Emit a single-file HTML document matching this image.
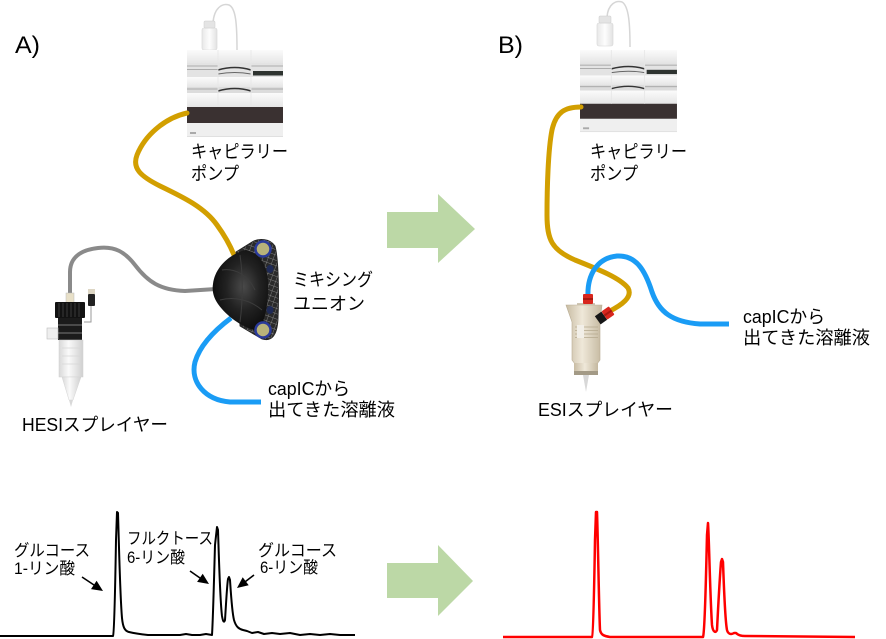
<!DOCTYPE html>
<html><head><meta charset="utf-8"><style>
html,body{margin:0;padding:0;background:#fff;}
svg{display:block;}
text{font-family:"Liberation Sans","Noto Sans CJK JP",sans-serif;fill:#000;}
</style></head><body>
<svg width="886" height="639" viewBox="0 0 886 639" xmlns="http://www.w3.org/2000/svg">
<defs>
  <linearGradient id="lightband" x1="0" y1="0" x2="0" y2="1">
    <stop offset="0" stop-color="#fbfbfb"/><stop offset="1" stop-color="#e6e6e6"/>
  </linearGradient>
  <linearGradient id="bottle" x1="0" y1="0" x2="1" y2="0">
    <stop offset="0" stop-color="#e8e8e8"/><stop offset="0.5" stop-color="#fdfdfd"/><stop offset="1" stop-color="#e2e2e2"/>
  </linearGradient>
  <linearGradient id="beige" x1="0" y1="0" x2="1" y2="0">
    <stop offset="0" stop-color="#c8bca3"/><stop offset="0.45" stop-color="#efe8d9"/><stop offset="1" stop-color="#c4b89f"/>
  </linearGradient>
  <linearGradient id="clear" x1="0" y1="0" x2="1" y2="0">
    <stop offset="0" stop-color="#d8d8d8"/><stop offset="0.4" stop-color="#fafafa"/><stop offset="1" stop-color="#d0d0d0"/>
  </linearGradient>
  <radialGradient id="blackbody" cx="0.55" cy="0.45" r="0.6">
    <stop offset="0" stop-color="#4a4a4a"/><stop offset="0.5" stop-color="#222"/><stop offset="1" stop-color="#0a0a0a"/>
  </radialGradient>
  <pattern id="mesh" width="5" height="5" patternUnits="userSpaceOnUse" patternTransform="rotate(20)">
    <rect width="5" height="5" fill="#2a2a2a"/>
    <path d="M0,0 H5 M0,0 V5" stroke="#9a9a9a" stroke-width="0.7"/>
  </pattern>
  <g id="pump">
    <rect x="0" y="0" width="96" height="87" fill="#f1f1f1"/>
    <rect x="0" y="0" width="96" height="13" fill="url(#lightband)"/>
    <rect x="0" y="13" width="96" height="14" fill="#e3e3e3"/>
    <path d="M0,16 H31 M0,19.5 H31 M64,16 H96" stroke="#9a9a9a" stroke-width="0.8"/>
    <path d="M31,20 Q48,15 64,20" stroke="#333" stroke-width="1.6" fill="none"/>
    <path d="M31,24 Q48,21 64,24" stroke="#666" stroke-width="1" fill="none"/>
    <rect x="66" y="21" width="30" height="4.5" fill="#2e3330"/>
    <rect x="0" y="27" width="96" height="10" fill="url(#lightband)"/>
    <rect x="0" y="37" width="96" height="6" fill="#dcdcdc"/>
    <path d="M0,39 H31 M64,39 H96" stroke="#999" stroke-width="0.8"/>
    <path d="M31,41 Q48,36 64,41" stroke="#333" stroke-width="1.5" fill="none"/>
    <rect x="0" y="43" width="96" height="14" fill="url(#lightband)"/>
    <rect x="0" y="57" width="96" height="16" fill="#3a3131"/>
    <rect x="0" y="73" width="96" height="14" fill="#efefef"/>
    <rect x="3" y="82" width="6" height="2" fill="#aaa"/>
    <rect x="0" y="86" width="96" height="1" fill="#e0e0e0"/>
    <path d="M31,0 V57 M64,0 V57" stroke="#e6e6e6" stroke-width="0.8"/>
  </g>
</defs>

<rect width="886" height="639" fill="#fff"/>

<text x="15" y="53" font-size="24" textLength="25" lengthAdjust="spacingAndGlyphs">A)</text>
<text x="498" y="53" font-size="24" textLength="25" lengthAdjust="spacingAndGlyphs">B)</text>

<!-- ===== Panel A ===== -->
<path d="M213,23 C214,8 222,3 229,5 C236,8 237,25 237,50" stroke="#d6d6d6" stroke-width="1.5" fill="none"/>
<rect x="202" y="28" width="15" height="22" rx="2" fill="url(#bottle)" stroke="#d6d6d6" stroke-width="0.6"/>
<rect x="204" y="21" width="11" height="7" rx="1" fill="#e4e4e4" stroke="#cccccc" stroke-width="0.5"/>
<use href="#pump" transform="translate(187,50)"/>

<text x="191" y="158" font-size="18" textLength="97" lengthAdjust="spacingAndGlyphs">キャピラリー</text>
<text x="191" y="180" font-size="18" textLength="48" lengthAdjust="spacingAndGlyphs">ポンプ</text>

<path d="M187,113 C165,118 145,135 137,155 C132,168 140,176 160,186 C185,198 205,208 217,225 C225,236 230,245 234,255" stroke="#d29f00" stroke-width="5" fill="none" stroke-linecap="round"/>
<path d="M70,298 L70,272 C70,258 80,250 98,248 C115,246 125,252 135,265 C148,282 160,290 185,291 L216,289" stroke="#8a8a8a" stroke-width="4" fill="none"/>
<path d="M231,318 C215,330 200,345 195,362 C190,382 205,400 230,402 L261,402" stroke="#1a9cf5" stroke-width="5" fill="none"/>

<!-- mixing union -->
<path d="M236,252 L252,242 C258,238 270,238 275,246 C279,260 279,300 278,320 C277,335 272,342 262,339 L240,326 Z" fill="url(#mesh)" stroke="#222" stroke-width="0.8"/>
<path d="M213,284 C215,268 228,255 245,250 C258,252 266,262 268,280 C269,300 266,318 259,331 C245,329 228,318 218,304 C213,297 212,290 213,284 Z" fill="url(#blackbody)"/>
<path d="M222,270 C235,268 248,275 255,290 M220,300 C235,296 250,300 262,310 M240,255 C243,275 243,300 240,322" stroke="#3c3c3c" stroke-width="1" fill="none"/>
<circle cx="263" cy="249" r="7.5" fill="#b8b27a" stroke="#2a3a9a" stroke-width="2.5"/>
<circle cx="263" cy="330" r="7.5" fill="#b8b27a" stroke="#2a3a9a" stroke-width="2.5"/>
<ellipse cx="270" cy="269" rx="3.5" ry="4" fill="#1f2a55"/>
<ellipse cx="270" cy="310" rx="3.5" ry="4" fill="#1f2a55"/>

<text x="293" y="286" font-size="18" textLength="80" lengthAdjust="spacingAndGlyphs">ミキシング</text>
<text x="293" y="310" font-size="18" textLength="72" lengthAdjust="spacingAndGlyphs">ユニオン</text>
<text x="268" y="395" font-size="18" textLength="82" lengthAdjust="spacingAndGlyphs">capICから</text>
<text x="268" y="416" font-size="18" textLength="127" lengthAdjust="spacingAndGlyphs">出てきた溶離液</text>

<!-- HESI sprayer -->
<path d="M91,306 V322 H84" stroke="#9a9a9a" stroke-width="1" fill="none"/>
<rect x="88" y="289" width="7" height="5" fill="#ddd6c4"/>
<rect x="88" y="294" width="7" height="12" rx="1" fill="#222"/>
<rect x="66" y="293" width="8" height="10" fill="#e8e0c8" stroke="#bbb" stroke-width="0.5"/>
<rect x="55" y="302" width="30" height="16" rx="1" fill="#121212"/>
<path d="M59,303 V317 M63,303 V317 M67,303 V317 M71,303 V317 M75,303 V317 M79,303 V317" stroke="#3a3a3a" stroke-width="1"/>
<rect x="58" y="318" width="24" height="22" fill="#1b1b1b"/>
<rect x="58" y="324" width="24" height="2" fill="#4a4a4a"/>
<rect x="58" y="332" width="24" height="2" fill="#4a4a4a"/>
<rect x="47" y="328" width="11" height="11" fill="#eeeeee" stroke="#bdbdbd" stroke-width="0.6"/>
<rect x="59" y="340" width="24" height="37" fill="url(#clear)" stroke="#d0d0d0" stroke-width="0.5"/>
<path d="M62,348 H80 M62,356 H80 M62,364 H80" stroke="#d6d6d6" stroke-width="0.8"/>
<polygon points="62,377 81,377 73,400 69,400" fill="url(#clear)" stroke="#d4d4d4" stroke-width="0.5"/>
<polygon points="69,400 73,400 71,407" fill="#d8d8d8"/>

<text x="22" y="431" font-size="18" textLength="146" lengthAdjust="spacingAndGlyphs">HESIスプレイヤー</text>

<!-- big arrows -->
<polygon points="387,212 438,212 438,194 475,229 438,263 438,248 387,248" fill="#bcd8a6"/>
<polygon points="387,563 438,563 438,545 473,581 438,616 438,598 387,598" fill="#bcd8a6"/>

<!-- ===== Panel B ===== -->
<path d="M607,17 C608,4 616,0 622,2 C629,6 630,25 630,47" stroke="#d6d6d6" stroke-width="1.5" fill="none"/>
<rect x="597" y="23" width="16" height="23" rx="2" fill="url(#bottle)" stroke="#d6d6d6" stroke-width="0.6"/>
<rect x="599" y="16" width="12" height="7" rx="1" fill="#e4e4e4" stroke="#cccccc" stroke-width="0.5"/>
<use href="#pump" transform="translate(580,50) scale(1.01,0.943)"/>

<text x="590" y="158" font-size="18" textLength="97" lengthAdjust="spacingAndGlyphs">キャピラリー</text>
<text x="590" y="180" font-size="18" textLength="48" lengthAdjust="spacingAndGlyphs">ポンプ</text>

<path d="M581,107 C565,107 556,112 552,130 C548,150 547,190 547,215 C547,240 552,250 575,260 C600,270 620,278 628,288 C633,297 622,305 608,312" stroke="#d29f00" stroke-width="5" fill="none" stroke-linecap="round"/>
<path d="M588,297 C587,275 597,258 617,256 C636,255 645,270 652,292 C659,312 672,322 700,324 L729,324" stroke="#1a9cf5" stroke-width="5" fill="none"/>

<!-- ESI sprayer -->
<rect x="577" y="303" width="18" height="9" fill="#cfc6b4"/>
<rect x="583" y="294" width="10" height="10" rx="1" fill="#d8261e"/>
<rect x="583" y="298" width="10" height="2" fill="#a81810"/>
<path d="M566,305 L602,305 L600,322 L600,360 L597,364 L575,364 L572,360 L572,322 Z" fill="url(#beige)" stroke="#b9ad94" stroke-width="0.6"/>
<path d="M575,327 H598 M575,330.5 H598 M575,334 H598 M575,337.5 H598" stroke="#b5a98f" stroke-width="0.8"/>
<rect x="577" y="325" width="7" height="13" fill="#f2efe8"/>
<rect x="574" y="363" width="24" height="10" fill="url(#beige)"/>
<rect x="574" y="371" width="24" height="4" fill="#a39a86"/>
<polygon points="583,375 589,375 586,392" fill="#d8d8d8"/>
<g transform="translate(601,318) rotate(-35)">
  <rect x="-4" y="-5" width="8" height="10" fill="#161616"/>
</g>
<g transform="translate(608,313) rotate(-35)">
  <rect x="-4.5" y="-5" width="9" height="10" rx="1" fill="#d8261e"/>
  <rect x="-4.5" y="-1" width="9" height="2" fill="#a81810"/>
</g>

<text x="538" y="416" font-size="18" textLength="135" lengthAdjust="spacingAndGlyphs">ESIスプレイヤー</text>
<text x="743" y="323" font-size="18" textLength="82" lengthAdjust="spacingAndGlyphs">capICから</text>
<text x="743" y="344" font-size="18" textLength="127" lengthAdjust="spacingAndGlyphs">出てきた溶離液</text>

<!-- ===== Chromatograms ===== -->
<path d="M0,636 L113,636 C114,634 115,600 116,540 L117,512 L118,513 C119,545 120,595 122,618 C123,628 125,631 129,632 C133,633 138,634 148,635 L180,635 L186,634 L192,635 L200,635 L206,634 L212,635 C213,620 214,580 215,545 L217,527 L218,530 C219,560 220,600 222,616 C223,622 224,623 225,620 C226,605 227,585 228,579 L229,577 L230,580 C231,595 232,612 234,620 C236,627 239,629 243,630 L247,631 L252,633 L258,632 L264,634 L272,633 L280,634 L290,633 L300,635 L310,634 L320,635 L330,634 L340,635 L355,635" stroke="#000" stroke-width="2" fill="none" stroke-linejoin="round"/>

<path d="M503,637 L592,637 C593,636 594,600 595,540 L596,512 L597,512 C598,540 599,610 600,630 C601,635 604,636 610,637 L703,637 C705,632 706,575 707,535 L708,523 C709,535 710,595 712,625 C713,633 716,633 717,630 C718,610 720,575 721,562 L722,559 L723,562 C724,590 725,620 727,630 C728,634 731,635 734,633 L736,633 C738,635 741,636 745,636 L855,637" stroke="#ff0000" stroke-width="2.5" fill="none" stroke-linejoin="round"/>

<!-- chromatogram labels -->
<text x="14" y="556" font-size="16.5" textLength="76" lengthAdjust="spacingAndGlyphs">グルコース</text>
<text x="14" y="574" font-size="16.5" textLength="61" lengthAdjust="spacingAndGlyphs">1-リン酸</text>
<text x="127" y="544" font-size="16.5" textLength="86" lengthAdjust="spacingAndGlyphs">フルクトース</text>
<text x="127" y="563" font-size="16.5" textLength="58" lengthAdjust="spacingAndGlyphs">6-リン酸</text>
<text x="258" y="556" font-size="16.5" textLength="79" lengthAdjust="spacingAndGlyphs">グルコース</text>
<text x="260" y="573" font-size="16.5" textLength="58" lengthAdjust="spacingAndGlyphs">6-リン酸</text>

<!-- small black arrows -->
<line x1="82" y1="577" x2="94" y2="585" stroke="#000" stroke-width="1.6"/>
<polygon points="103,591 91,589.1 96.6,580.7" fill="#000"/>
<line x1="190" y1="571" x2="200" y2="578" stroke="#000" stroke-width="1.6"/>
<polygon points="209,584 197.1,581.9 202.7,573.7" fill="#000"/>
<line x1="254" y1="575" x2="245.5" y2="581.5" stroke="#000" stroke-width="1.6"/>
<polygon points="237,588 242.7,577.3 248.7,585.3" fill="#000"/>
</svg>
</body></html>
